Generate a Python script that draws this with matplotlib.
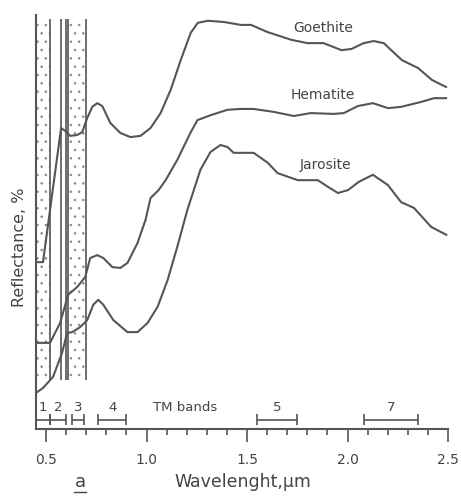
import numpy as np
import matplotlib
matplotlib.use("Agg")
import matplotlib.pyplot as plt
from matplotlib.lines import Line2D

# spectra (reflectance in arbitrary %, 0 = bottom axis)
goethite_w = [0.45, 0.485, 0.575, 0.595, 0.62, 0.655, 0.68, 0.705, 0.73, 0.755, 0.78, 0.82, 0.87,
              0.92, 0.97, 1.02, 1.07, 1.12, 1.17, 1.22, 1.255, 1.305, 1.385, 1.47, 1.52, 1.60,
              1.72, 1.80, 1.88, 1.97, 2.02, 2.08, 2.13, 2.18, 2.27, 2.35, 2.42, 2.49]
goethite_r = [40.3, 40.3, 72.7, 72.0, 70.8, 71.0, 71.7, 75.1, 77.8, 78.7, 78.0, 73.9, 71.5,
              70.5, 70.8, 72.7, 76.3, 81.9, 89.1, 95.7, 98.1, 98.6, 98.3, 97.6, 97.6, 95.9,
              94.0, 93.2, 93.2, 91.5, 91.8, 93.2, 93.7, 93.2, 89.1, 87.2, 84.3, 82.6]

hematite_w = [0.45, 0.52, 0.57, 0.61, 0.655, 0.695, 0.72, 0.755, 0.785, 0.83, 0.87, 0.905, 0.955,
              0.995, 1.02, 1.06, 1.095, 1.153, 1.218, 1.253, 1.319, 1.403, 1.468, 1.532, 1.632,
              1.732, 1.817, 1.931, 1.981, 2.051, 2.126, 2.201, 2.266, 2.366, 2.43, 2.49]
hematite_r = [20.8, 20.8, 25.6, 32.4, 34.3, 36.7, 41.3, 42.0, 41.3, 39.1, 38.9, 40.1, 44.9,
              50.5, 55.8, 57.7, 60.1, 65.0, 71.5, 74.6, 75.8, 77.1, 77.3, 77.3, 76.6,
              75.6, 76.3, 76.1, 76.3, 78.0, 78.7, 77.5, 77.8, 79.0, 79.9, 79.9]

jarosite_w = [0.45, 0.485, 0.535, 0.58, 0.605, 0.63, 0.67, 0.705, 0.735, 0.76, 0.785, 0.835, 0.905,
              0.955, 1.005, 1.055, 1.105, 1.153, 1.203, 1.268, 1.318, 1.368, 1.403, 1.433, 1.533,
              1.603, 1.652, 1.752, 1.852, 1.902, 1.952, 2.002, 2.056, 2.126, 2.201, 2.266, 2.33,
              2.416, 2.491]
jarosite_r = [8.7, 9.9, 12.6, 18.4, 23.2, 23.4, 24.6, 26.3, 30.0, 31.2, 30.0, 26.3, 23.4,
              23.4, 25.6, 29.5, 36.0, 44.0, 52.9, 62.6, 66.9, 68.6, 68.1, 66.7, 66.7,
              64.3, 61.8, 60.1, 60.1, 58.5, 57.0, 57.7, 59.7, 61.4, 58.9, 54.8, 53.4,
              48.8, 46.9]

# Landsat TM bands
band_names = ["1", "2", "3", "4", "5", "7"]
band_lo = [0.45, 0.52, 0.63, 0.76, 1.55, 2.08]
band_hi = [0.52, 0.60, 0.69, 0.90, 1.75, 2.35]

# stippled strips and their edge lines
strip_spans = [(0.45, 0.52), (0.61, 0.70)]
strip_edges = [0.52, 0.575, 0.60, 0.61, 0.70]

ink = "#555555"
txt = "#444444"
plt.rcParams["hatch.linewidth"] = 0.6

fig = plt.figure(figsize=(4.61, 4.99), dpi=100)
ax = fig.add_axes([0.078, 0.1403, 0.894, 0.8297])
ax.set_xlim(0.45, 2.5)
ax.set_ylim(0, 100)

for lo, hi in strip_spans:
    ax.axvspan(lo, hi, 0.118, 0.99, facecolor="none", edgecolor="#8a8a8a", hatch="..", lw=0)
ax.vlines(strip_edges, 11.8, 99.0, color=ink, lw=1.2)

for w, r in [(goethite_w, goethite_r), (hematite_w, hematite_r), (jarosite_w, jarosite_r)]:
    ax.plot(w, r, color=ink, lw=1.5, solid_joinstyle="round")

ax.text(1.88, 96.9, "Goethite", ha="center", va="center", fontsize=10, color=txt)
ax.text(1.877, 80.7, "Hematite", ha="center", va="center", fontsize=10, color=txt)
ax.text(1.89, 63.8, "Jarosite", ha="center", va="center", fontsize=10, color=txt)

# TM band bars
bar_y = 2.2
for name, lo, hi in zip(band_names, band_lo, band_hi):
    ax.hlines(bar_y, lo, hi, color=ink, lw=1.2)
    ax.vlines([lo, hi], bar_y - 1.3, bar_y + 1.3, color=ink, lw=1.2)
    ax.text((lo + hi) / 2, 5.2, name, ha="center", va="center", fontsize=9.5, color=txt)
ax.text(1.19, 5.2, "TM bands", ha="center", va="center", fontsize=9.5, color=txt)

for s in ["top", "right"]:
    ax.spines[s].set_visible(False)
for s in ["left", "bottom"]:
    ax.spines[s].set_color(ink)
    ax.spines[s].set_linewidth(1.5)

ax.set_yticks([])
ax.set_xticks([0.5, 1.0, 1.5, 2.0, 2.5])
ax.set_xticklabels(["0.5", "1.0", "1.5", "2.0", "2.5"])
ax.set_xticks(np.arange(0.5, 2.45, 0.1), minor=True)
ax.tick_params(axis="x", which="major", direction="out", length=9, width=1.2, color=ink,
               labelsize=10, labelcolor=txt, pad=8)
ax.tick_params(axis="x", which="minor", direction="out", length=4.5, width=1.2, color=ink)

ax.set_ylabel("Reflectance, %", fontsize=11.5, color=txt)
ax.yaxis.set_label_coords(-0.022, 0.44)
fig.text(243 / 461, 1 - 482 / 499, "Wavelenght,\u03bcm", ha="center", va="center",
         fontsize=12.5, color=txt)
fig.text(80 / 461, 1 - 482 / 499, "a", ha="center", va="center", fontsize=13, color=txt)
fig.add_artist(Line2D([74 / 461, 86 / 461], [1 - 492 / 499, 1 - 492 / 499], color=txt, lw=1))

fig.savefig("out.png", dpi=100)
